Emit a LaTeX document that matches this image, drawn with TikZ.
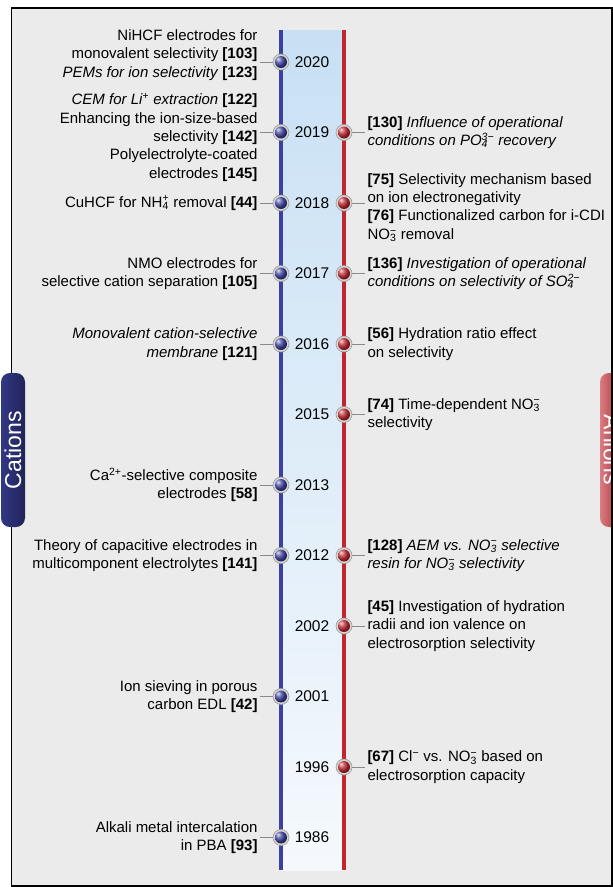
\documentclass[tikz,border=0pt]{standalone}
\usepackage{fontspec}
\setmainfont{Liberation Sans}
\usepackage{tikz}
\usetikzlibrary{positioning}

\definecolor{framegray}{HTML}{EBEBEB}
\definecolor{bandtop}{HTML}{C8E0F4}
\definecolor{bandbot}{HTML}{F5F9FD}
\definecolor{cblue}{HTML}{3B419E}
\definecolor{ared}{HTML}{C0262E}
\definecolor{ringfill}{HTML}{D6D6D6}
\definecolor{ringedge}{HTML}{9C9C9C}
\definecolor{linkgray}{HTML}{8A8A8A}

% subscript and superscript stacked (ions)
\newcommand{\ionss}[2]{\rlap{\textsubscript{#1}}\textsuperscript{#2}}

\tikzset{
  yearlab/.style={font=\fontsize{15.5}{18}\selectfont, inner sep=1pt},
  cdot/.style={circle, minimum size=16pt, inner sep=0pt, fill=ringfill, draw=ringedge, line width=0.6pt,
    path picture={\shade[ball color=cblue] (path picture bounding box.center) circle (6pt);}},
  adot/.style={circle, minimum size=16pt, inner sep=0pt, fill=ringfill, draw=ringedge, line width=0.6pt,
    path picture={\shade[ball color=ared] (path picture bounding box.center) circle (6pt);}},
  ltext/.style={align=right, font=\fontsize{15}{18.4}\selectfont, inner sep=2pt},
  rtext/.style={align=left, font=\fontsize{15}{18.4}\selectfont, inner sep=2pt},
  tabtext/.style={text=white, font=\fontsize{23}{26}\selectfont, inner sep=0pt},
  link/.style={draw=linkgray, line width=0.7pt},
}

\begin{document}
\begin{tikzpicture}[x=1pt, y=-1pt]
    \useasboundingbox (0,0) rectangle (613,887);

        % Frame and side tabs
        \fill[white] (0,0) rectangle (613,887);
        \fill[framegray] (11.7,8) rectangle (612,886);
        \begin{scope}
          \clip (11.7,8) rectangle (612,886);
          \shade[rounded corners=9pt, left color=ared!60!white, middle color=ared!90!white, right color=ared!85!black]
            (600,373) rectangle (624,527);
          \node[tabtext, rotate=-90] (ani) at (612,450) {Anions};
        \end{scope}
        \draw[line width=1.3pt] (11.7,8) rectangle (612,886);
        \shade[rounded corners=9pt, left color=cblue!85!black, middle color=cblue!95!white, right color=cblue!55!black]
          (1,373) rectangle (25,527);
        \node[tabtext, rotate=90] (cat) at (13,450) {Cations};

        % Time band
        \shade[top color=bandtop, bottom color=bandbot] (281,30) rectangle (344,870);
        \draw[cblue, line width=4.2pt] (281,30) -- (281,870);
        \draw[ared, line width=4pt] (344,30) -- (344,870);

        % Define nodes
        \node[yearlab] (y2020) at (312,62)    {2020};
        \node[yearlab] (y2019) at (312,132.5) {2019};
        \node[yearlab] (y2018) at (312,203)   {2018};
        \node[yearlab] (y2017) at (312,273.5) {2017};
        \node[yearlab] (y2016) at (312,344)   {2016};
        \node[yearlab] (y2015) at (312,414.5) {2015};
        \node[yearlab] (y2013) at (312,485)   {2013};
        \node[yearlab] (y2012) at (312,555.5) {2012};
        \node[yearlab] (y2002) at (312,626)   {2002};
        \node[yearlab] (y2001) at (312,696.5) {2001};
        \node[yearlab] (y1996) at (312,767)   {1996};
        \node[yearlab] (y1986) at (312,837.5) {1986};

        \node[cdot] (c2020) at (281,62)    {};
        \node[cdot] (c2019) at (281,132.5) {};
        \node[cdot] (c2018) at (281,203)   {};
        \node[cdot] (c2017) at (281,273.5) {};
        \node[cdot] (c2016) at (281,344)   {};
        \node[cdot] (c2013) at (281,485)   {};
        \node[cdot] (c2012) at (281,555.5) {};
        \node[cdot] (c2001) at (281,696.5) {};
        \node[cdot] (c1986) at (281,837.5) {};

        \node[adot] (a2019) at (344,132.5) {};
        \node[adot] (a2018) at (344,203)   {};
        \node[adot] (a2017) at (344,273.5) {};
        \node[adot] (a2016) at (344,344)   {};
        \node[adot] (a2015) at (344,414.5) {};
        \node[adot] (a2012) at (344,555.5) {};
        \node[adot] (a2002) at (344,626)   {};
        \node[adot] (a1996) at (344,767)   {};

        \node[ltext, left=13pt of c2020, yshift=7pt] (ct2020)
          {NiHCF electrodes for\\monovalent selectivity \textbf{[103]}\\\textit{PEMs for ion selectivity} \textbf{[123]}};
        \node[ltext, left=13pt of c2019, yshift=-5pt] (ct2019)
          {\textit{CEM for Li\textsuperscript{+} extraction} \textbf{[122]}\\Enhancing the ion-size-based\\selectivity \textbf{[142]}\\Polyelectrolyte-coated\\electrodes \textbf{[145]}};
        \node[ltext, left=13pt of c2018] (ct2018) {CuHCF for NH\ionss{4}{+} removal \textbf{[44]}};
        \node[ltext, left=13pt of c2017] (ct2017) {NMO electrodes for\\selective cation separation \textbf{[105]}};
        \node[ltext, left=13pt of c2016] (ct2016) {\textit{Monovalent cation-selective}\\\textit{membrane} \textbf{[121]}};
        \node[ltext, left=13pt of c2013] (ct2013) {Ca\textsuperscript{2+}-selective composite\\electrodes \textbf{[58]}};
        \node[ltext, left=13pt of c2012] (ct2012) {Theory of capacitive electrodes in\\multicomponent electrolytes \textbf{[141]}};
        \node[ltext, left=13pt of c2001] (ct2001) {Ion sieving in porous\\carbon EDL \textbf{[42]}};
        \node[ltext, left=13pt of c1986] (ct1986) {Alkali metal intercalation\\in PBA \textbf{[93]}};

        \node[rtext, right=13pt of a2019] (at2019)
          {\textbf{[130]} \textit{Influence of operational}\\\textit{conditions on PO\ionss{4}{3−} recovery}};
        \node[rtext, right=13pt of a2018, yshift=-4.5pt] (at2018)
          {\textbf{[75]} Selectivity mechanism based\\on ion electronegativity\\\textbf{[76]} Functionalized carbon for i-CDI\\NO\ionss{3}{−} removal};
        \node[rtext, right=13pt of a2017] (at2017)
          {\textbf{[136]} \textit{Investigation of operational}\\\textit{conditions on selectivity of SO\ionss{4}{2−}}};
        \node[rtext, right=13pt of a2016] (at2016) {\textbf{[56]} Hydration ratio effect\\on selectivity};
        \node[rtext, right=13pt of a2015] (at2015) {\textbf{[74]} Time-dependent NO\ionss{3}{−}\\selectivity};
        \node[rtext, right=13pt of a2012] (at2012)
          {\textbf{[128]} \textit{AEM vs. NO\ionss{3}{−} selective}\\\textit{resin for NO\ionss{3}{−} selectivity}};
        \node[rtext, right=13pt of a2002] (at2002)
          {\textbf{[45]} Investigation of hydration\\radii and ion valence on\\electrosorption selectivity};
        \node[rtext, right=13pt of a1996] (at1996) {\textbf{[67]} Cl\textsuperscript{−} vs. NO\ionss{3}{−} based on\\electrosorption capacity};

        % Connect the nodes
        \draw[link] (c2020.west) -- (c2020.west -| ct2020.east);
        \draw[link] (c2019.west) -- (c2019.west -| ct2019.east);
        \draw[link] (c2018.west) -- (c2018.west -| ct2018.east);
        \draw[link] (c2017.west) -- (c2017.west -| ct2017.east);
        \draw[link] (c2016.west) -- (c2016.west -| ct2016.east);
        \draw[link] (c2013.west) -- (c2013.west -| ct2013.east);
        \draw[link] (c2012.west) -- (c2012.west -| ct2012.east);
        \draw[link] (c2001.west) -- (c2001.west -| ct2001.east);
        \draw[link] (c1986.west) -- (c1986.west -| ct1986.east);

        \draw[link] (a2019.east) -- (a2019.east -| at2019.west);
        \draw[link] (a2018.east) -- (a2018.east -| at2018.west);
        \draw[link] (a2017.east) -- (a2017.east -| at2017.west);
        \draw[link] (a2016.east) -- (a2016.east -| at2016.west);
        \draw[link] (a2015.east) -- (a2015.east -| at2015.west);
        \draw[link] (a2012.east) -- (a2012.east -| at2012.west);
        \draw[link] (a2002.east) -- (a2002.east -| at2002.west);
        \draw[link] (a1996.east) -- (a1996.east -| at1996.west);
      \end{tikzpicture}
\end{document}
